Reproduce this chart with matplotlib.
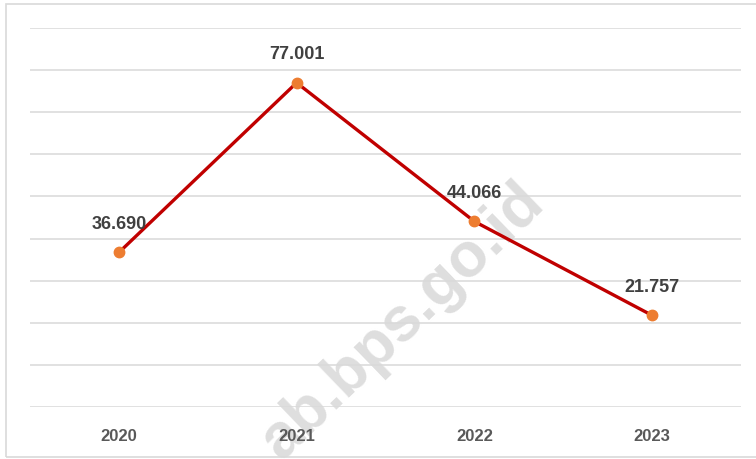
import matplotlib.pyplot as plt
from matplotlib.patches import Rectangle

# data
tahun = ['2020', '2021', '2022', '2023']
nilai = [36.690, 77.001, 44.066, 21.757]
label_nilai = ['36.690', '77.001', '44.066', '21.757']

plt.rcParams['font.family'] = ['Liberation Sans', 'DejaVu Sans']

fig = plt.figure(figsize=(7.56, 4.59), dpi=100)
ax = fig.add_axes([30 / 756, 1 - 407 / 459, 711 / 756, 379 / 459])
ax.set_facecolor('none')

# bingkai luar
fig.patches.append(Rectangle((6 / 756, 2 / 459), 1.0, 1 - 6 / 459, transform=fig.transFigure,
                             fill=False, edgecolor='#d9d9d9', linewidth=1.2))

# watermark, di belakang grid, garis dan label
ax.text(402 / 756, 1 - 322 / 459, 'ab.bps.go.id', transform=fig.transFigure,
        rotation=44, ha='center', va='center', rotation_mode='anchor',
        fontsize=45, fontweight='bold', color='#dedede', zorder=0.2)

x = range(len(tahun))
ax.plot(x, nilai, color='#c00000', linewidth=2.4, zorder=3)
ax.plot(x, nilai, linestyle='none', marker='o', markersize=7.5,
        color='#ed7d31', zorder=4)

for i, v in enumerate(nilai):
    ax.annotate(label_nilai[i], (i, v), xytext=(0, 20), textcoords='offset points',
                ha='center', va='center', fontsize=13, fontweight='bold',
                color='#404040', zorder=5)

ax.set_xlim(-0.5, 3.5)
ax.set_ylim(0, 90)
ax.set_yticks(range(0, 91, 10))
ax.set_yticklabels([])
ax.set_xticks(list(x))
ax.set_xticklabels(tahun, fontsize=12, fontweight='bold', color='#595959')
ax.tick_params(axis='both', length=0)
ax.tick_params(axis='x', pad=16)
ax.grid(axis='y', color='#d9d9d9', linewidth=1.1)
ax.set_axisbelow(True)
for s in ax.spines.values():
    s.set_visible(False)

fig.savefig('out.png', dpi=100)
